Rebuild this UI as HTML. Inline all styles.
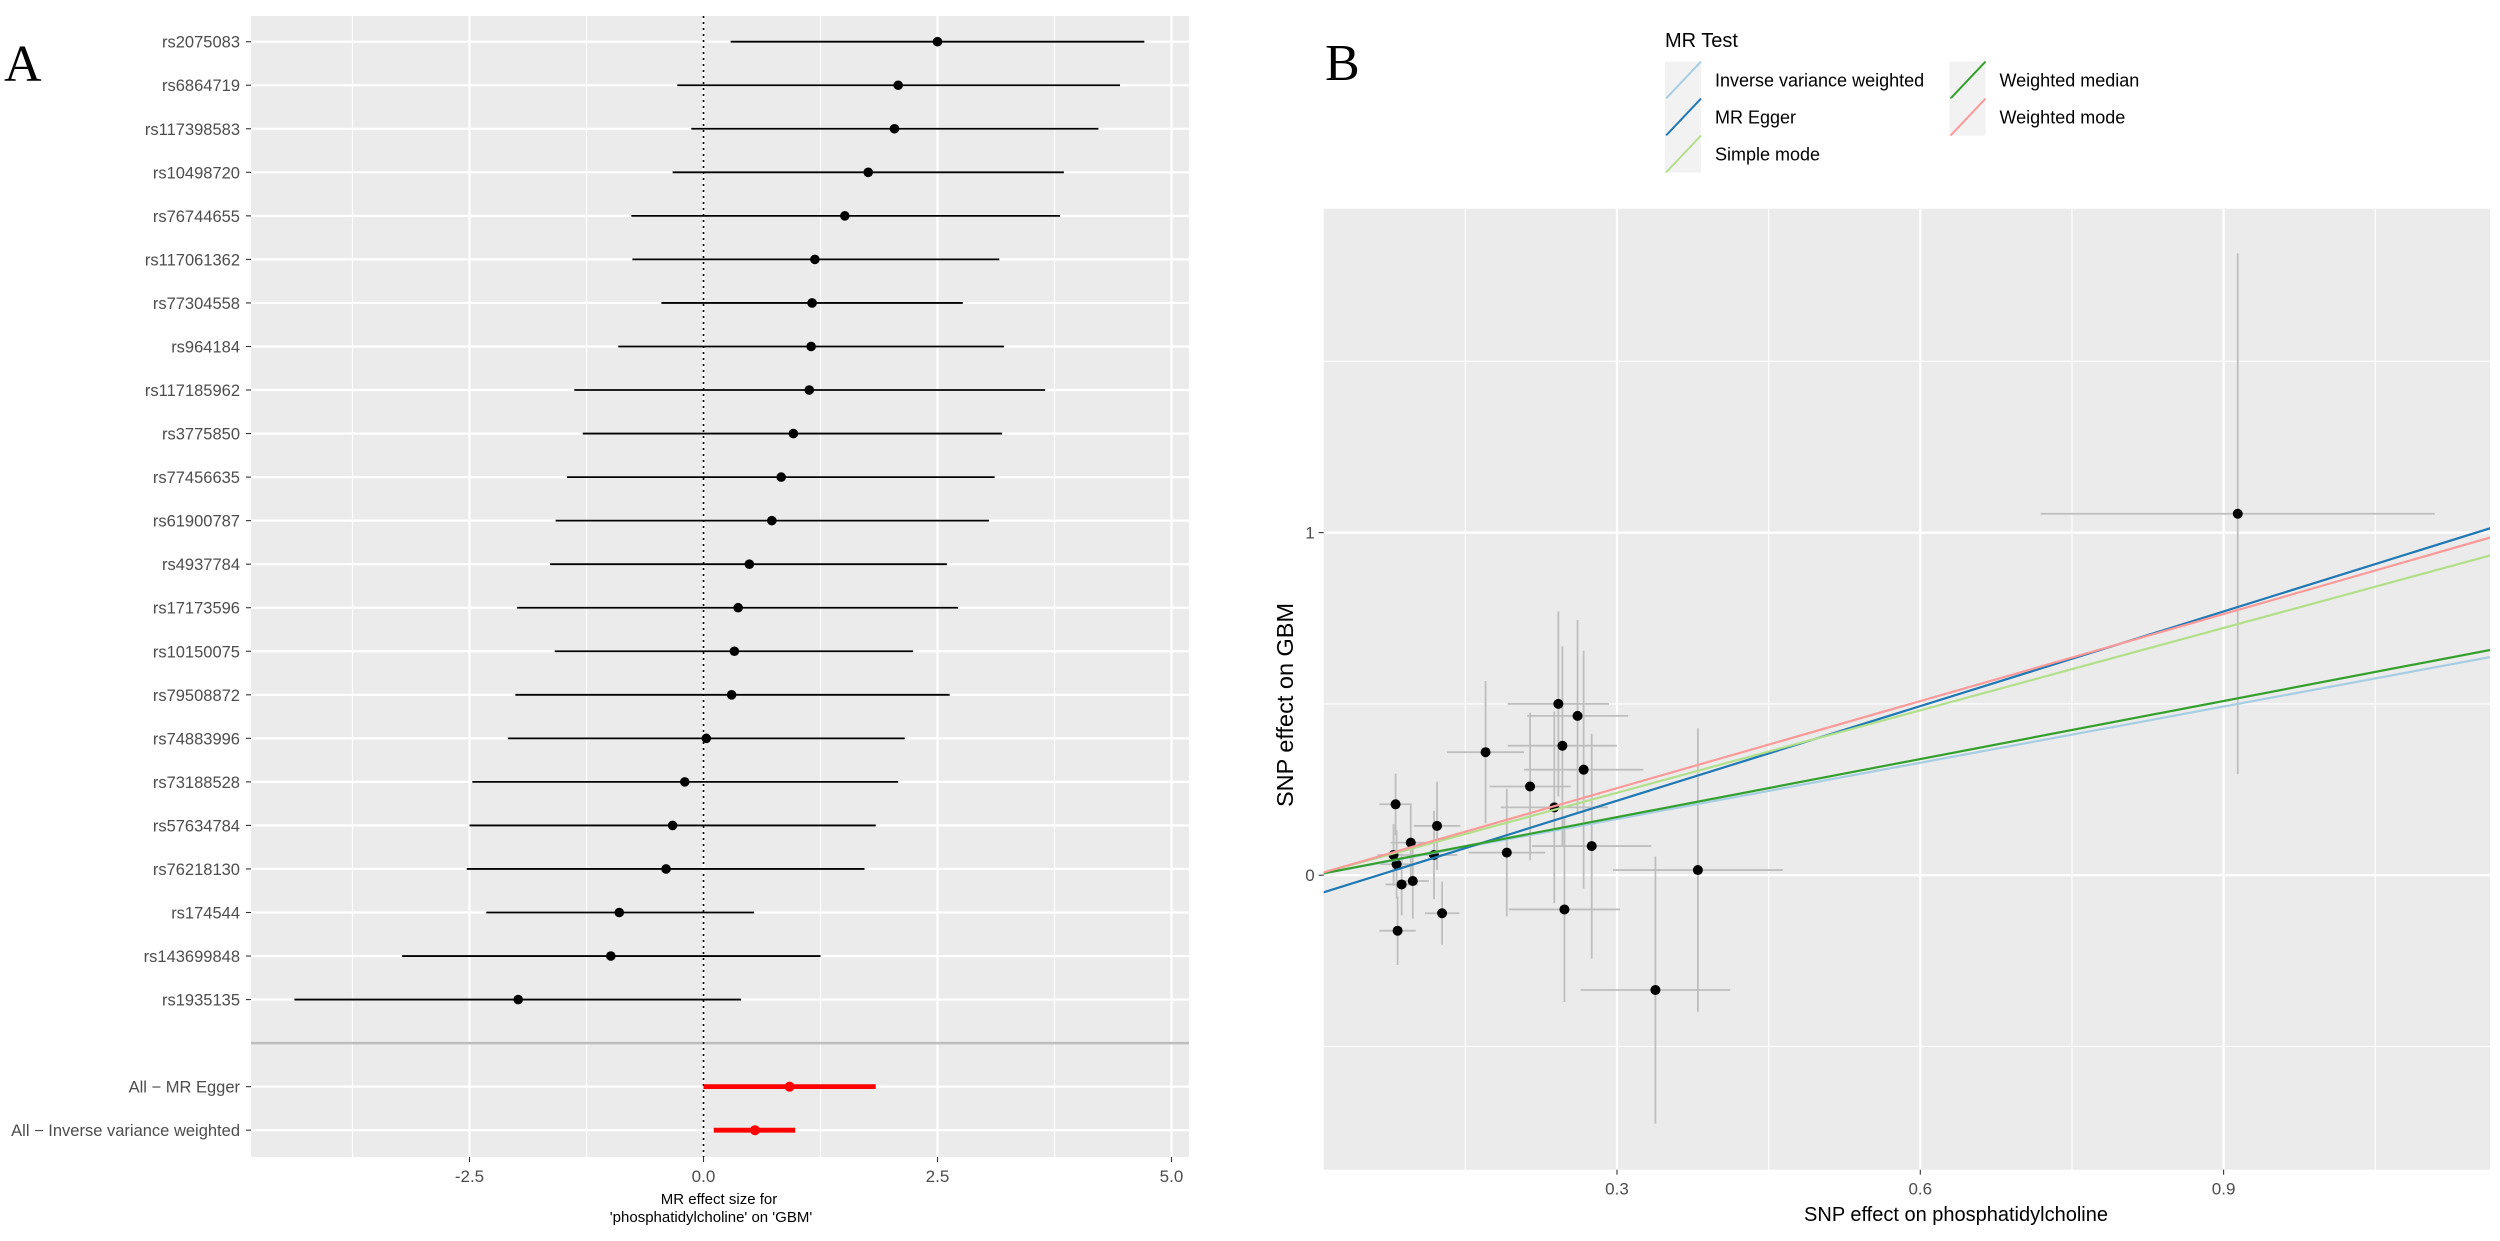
<!DOCTYPE html>
<html><head><meta charset="utf-8"><style>
html,body{margin:0;padding:0;background:#fff;}
svg{display:block;font-family:"Liberation Sans",sans-serif;}
</style></head><body>
<svg id="fig" width="2500" height="1241" viewBox="0 0 2500 1241" xmlns="http://www.w3.org/2000/svg">
<g id="panelA"></g>
<g id="panelB"></g>
</svg>
<script>
// ---------- Panel A data ----------
const snps = ["rs2075083","rs6864719","rs117398583","rs10498720","rs76744655","rs117061362","rs77304558","rs964184","rs117185962","rs3775850","rs77456635","rs61900787","rs4937784","rs17173596","rs10150075","rs79508872","rs74883996","rs73188528","rs57634784","rs76218130","rs174544","rs143699848","rs1935135"];
const snpEst = [2.50,2.08,2.04,1.76,1.51,1.19,1.16,1.15,1.13,0.96,0.83,0.73,0.49,0.37,0.33,0.30,0.03,-0.20,-0.33,-0.40,-0.90,-0.99,-1.98];
const snpLo = [0.29,-0.28,-0.13,-0.33,-0.77,-0.76,-0.45,-0.91,-1.38,-1.29,-1.46,-1.58,-1.64,-1.99,-1.59,-2.01,-2.09,-2.47,-2.50,-2.53,-2.32,-3.22,-4.37];
const snpHi = [4.71,4.45,4.22,3.85,3.81,3.16,2.77,3.21,3.65,3.19,3.11,3.05,2.60,2.72,2.24,2.63,2.15,2.08,1.84,1.72,0.54,1.25,0.40];
const sumLabels = ["All \u2212 MR Egger","All \u2212 Inverse variance weighted"];
const sumEst = [0.92,0.55];
const sumLo = [0.00,0.11];
const sumHi = [1.84,0.98];
const aMajorTicks = [-2.5,0,2.5,5];
const aTickLabels = ["-2.5","0.0","2.5","5.0"];
const aMinorTicks = [-3.75,-1.25,1.25,3.75];

// ---------- Panel B data ----------
const bx = [0.242,0.261,0.246,0.267,0.275,0.238,0.214,0.248,0.191,0.170,0.380,0.338,0.081,0.122,0.096,0.079,0.082,0.119,0.087,0.098,0.127,0.083,0.914];
const by = [0.500,0.465,0.378,0.308,0.085,0.198,0.259,-0.100,0.066,0.359,0.015,-0.335,0.207,0.144,0.095,0.059,0.032,0.059,-0.027,-0.017,-0.111,-0.162,1.055];
const bxSe = [0.050,0.050,0.054,0.059,0.059,0.053,0.040,0.055,0.038,0.038,0.084,0.074,0.016,0.023,0.020,0.016,0.016,0.023,0.016,0.016,0.017,0.018,0.195];
const bySe = [0.270,0.280,0.290,0.347,0.328,0.280,0.215,0.270,0.186,0.208,0.414,0.390,0.090,0.129,0.109,0.090,0.100,0.129,0.090,0.110,0.092,0.100,0.760];
const methods = ["Inverse variance weighted","MR Egger","Simple mode","Weighted median","Weighted mode"];
const methodSlopes = [0.547,0.921,0.802,0.565,0.847];
const methodIntercepts = [0,-0.059,0,0,0];
const methodColors = ["#a6cee3","#1f78b4","#b2df8a","#33a02c","#fb9a99"];
const bXTicks = [0.3,0.6,0.9];
const bXTickLabels = ["0.3","0.6","0.9"];
const bXMinor = [0.15,0.45,0.75,1.05];
const bYTicks = [0,1];
const bYTickLabels = ["0","1"];
const bYMinor = [-0.5,0.5,1.5];

const NS = "http://www.w3.org/2000/svg";
function mk(parent, tag, attrs, text){
  const e = document.createElementNS(NS, tag);
  for (const k in attrs) e.setAttribute(k, attrs[k]);
  if (text !== undefined) e.textContent = text;
  parent.appendChild(e);
  return e;
}

// ================= PANEL A =================
(function(){
  const g = document.getElementById('panelA');
  const L = 251, R = 1189, T = 16, B = 1157;
  const xA = v => 703.5 + v * 93.6;
  const yRow = k => 41.7 + k * 43.54;

  const lab = mk(g,'text',{x:4,y:81,'font-family':'Liberation Serif, serif','font-size':52,fill:'#000'},'A');
  
  

  const bg = mk(g,'rect',{x:L,y:T,width:R-L,height:B-T,fill:'#ebebeb'});
  
  

  aMinorTicks.forEach(v=>{
    const l = mk(g,'line',{x1:xA(v),x2:xA(v),y1:T,y2:B,stroke:'#fff','stroke-width':1.1});
    
    
  });
  aMajorTicks.forEach(v=>{
    const l = mk(g,'line',{x1:xA(v),x2:xA(v),y1:T,y2:B,stroke:'#fff','stroke-width':2.2});
    
    
  });
  const nRows = snps.length + 1 + sumLabels.length;
  for (let k=0;k<nRows;k++){
    const l = mk(g,'line',{x1:L,x2:R,y1:yRow(k),y2:yRow(k),stroke:'#fff','stroke-width':2.2});
    
    
  }
  const sep = mk(g,'line',{x1:L,x2:R,y1:yRow(snps.length),y2:yRow(snps.length),stroke:'#bdbdbd','stroke-width':2.6});
  
  

  const zl = mk(g,'line',{x1:xA(0),x2:xA(0),y1:T,y2:B,stroke:'#000','stroke-width':1.6,'stroke-dasharray':'2,4'});
  
  

  snps.forEach((s,k)=>{
    const y = yRow(k);
    const ci = mk(g,'line',{x1:xA(snpLo[k]),x2:xA(snpHi[k]),y1:y,y2:y,stroke:'#000','stroke-width':1.8});
    
    
    const pt = mk(g,'circle',{cx:xA(snpEst[k]),cy:y,r:4.8,fill:'#000'});
    
    
    const tl = mk(g,'text',{x:240,y:y+6,'text-anchor':'end','font-size':16.5,fill:'#4d4d4d'},s);
    
    
    const tk = mk(g,'line',{x1:L-5,x2:L,y1:y,y2:y,stroke:'#333','stroke-width':1.1});
    
    
  });
  sumLabels.forEach((s,i)=>{
    const y = yRow(snps.length+1+i);
    const ci = mk(g,'line',{x1:xA(sumLo[i]),x2:xA(sumHi[i]),y1:y,y2:y,stroke:'#ff0000','stroke-width':4.8});
    
    
    const pt = mk(g,'circle',{cx:xA(sumEst[i]),cy:y,r:5,fill:'#ff0000'});
    
    
    const tl = mk(g,'text',{x:240,y:y+6,'text-anchor':'end','font-size':16.5,fill:'#4d4d4d'},s);
    
    
    const tk = mk(g,'line',{x1:L-5,x2:L,y1:y,y2:y,stroke:'#333','stroke-width':1.1});
    
    
  });
  aMajorTicks.forEach((v,i)=>{
    const tk = mk(g,'line',{x1:xA(v),x2:xA(v),y1:B,y2:B+5,stroke:'#333','stroke-width':1.1});
    
    
    const t = mk(g,'text',{x:xA(v),y:B+25,'text-anchor':'middle','font-size':17,fill:'#4d4d4d'},aTickLabels[i]);
    
    
  });
  const xt1 = mk(g,'text',{x:719,y:1204,'text-anchor':'middle','font-size':15,fill:'#000'},'MR effect size for');
  
  
  const xt2 = mk(g,'text',{x:711,y:1222,'text-anchor':'middle','font-size':15,fill:'#000'},"'phosphatidylcholine' on 'GBM'");
  
  
})();

// ================= PANEL B =================
(function(){
  const g = document.getElementById('panelB');
  const L = 1323.7, R = 2490, T = 208.7, B = 1169.7;
  const X = v => 1313.7 + v * 1011;
  const Y = v => 875.2 - v * 342.6;

  const lab = mk(g,'text',{x:1325,y:80,'font-family':'Liberation Serif, serif','font-size':52,fill:'#000'},'B');
  
  

  const lt = mk(g,'text',{x:1665,y:47,'font-size':20,fill:'#000'},'MR Test');
  
  
  const legPos = [[1665,61.6],[1665,98.6],[1665,135.5],[1949.5,61.6],[1949.5,98.6]];
  const legOrder = [0,1,2,3,4];
  legOrder.forEach((m,i)=>{
    const [lx,ly] = legPos[i];
    const eg = mk(g,'g',{});
    
    
    mk(eg,'rect',{x:lx,y:ly,width:36,height:37,fill:'#f2f2f2'});
    mk(eg,'line',{x1:lx+1,y1:ly+37,x2:lx+36,y2:ly,stroke:methodColors[m],'stroke-width':2});
    mk(eg,'text',{x:lx+50,y:ly+25,'font-size':18,fill:'#000'},methods[m]);
  });

  const bg = mk(g,'rect',{x:L,y:T,width:R-L,height:B-T,fill:'#ebebeb'});
  
  

  bXMinor.forEach(v=>{
    const l = mk(g,'line',{x1:X(v),x2:X(v),y1:T,y2:B,stroke:'#fff','stroke-width':1.1});
    
    
  });
  bYMinor.forEach(v=>{
    const l = mk(g,'line',{x1:L,x2:R,y1:Y(v),y2:Y(v),stroke:'#fff','stroke-width':1.1});
    
    
  });
  bXTicks.forEach(v=>{
    const l = mk(g,'line',{x1:X(v),x2:X(v),y1:T,y2:B,stroke:'#fff','stroke-width':2.2});
    
    
  });
  bYTicks.forEach(v=>{
    const l = mk(g,'line',{x1:L,x2:R,y1:Y(v),y2:Y(v),stroke:'#fff','stroke-width':2.2});
    
    
  });

  const defs = mk(g,'defs',{});
  const cp = mk(defs,'clipPath',{id:'clipB'});
  mk(cp,'rect',{x:L,y:T,width:R-L,height:B-T});
  const pg = mk(g,'g',{'clip-path':'url(#clipB)'});
  
  

  bx.forEach((v,i)=>{
    const h = mk(pg,'line',{x1:X(v-bxSe[i]),x2:X(v+bxSe[i]),y1:Y(by[i]),y2:Y(by[i]),stroke:'#bebebe','stroke-width':1.8});
    
    
    const vl = mk(pg,'line',{x1:X(v),x2:X(v),y1:Y(by[i]+bySe[i]),y2:Y(by[i]-bySe[i]),stroke:'#bebebe','stroke-width':1.8});
    
    
  });
  bx.forEach((v,i)=>{
    const c = mk(pg,'circle',{cx:X(v),cy:Y(by[i]),r:5,fill:'#000'});
    
    
  });
  const x0 = 0, x1 = 1.2;
  methods.forEach((m,i)=>{
    const l = mk(pg,'line',{x1:X(x0),y1:Y(methodIntercepts[i]+methodSlopes[i]*x0),x2:X(x1),y2:Y(methodIntercepts[i]+methodSlopes[i]*x1),stroke:methodColors[i],'stroke-width':2.2});
    
    
  });

  bXTicks.forEach((v,i)=>{
    const tk = mk(g,'line',{x1:X(v),x2:X(v),y1:B,y2:B+5,stroke:'#333','stroke-width':1.1});
    
    
    const t = mk(g,'text',{x:X(v),y:B+25,'text-anchor':'middle','font-size':17,fill:'#4d4d4d'},bXTickLabels[i]);
    
    
  });
  bYTicks.forEach((v,i)=>{
    const tk = mk(g,'line',{x1:L-5,x2:L,y1:Y(v),y2:Y(v),stroke:'#333','stroke-width':1.1});
    
    
    const t = mk(g,'text',{x:L-9,y:Y(v)+6,'text-anchor':'end','font-size':17,fill:'#4d4d4d'},bYTickLabels[i]);
    
    
  });
  const xt = mk(g,'text',{x:1956,y:1221,'text-anchor':'middle','font-size':20,fill:'#000'},'SNP effect on phosphatidylcholine');
  
  
  const yt = mk(g,'text',{x:0,y:0,'text-anchor':'middle','font-size':23,fill:'#000',transform:'translate(1293,705) rotate(-90)',textLength:204,lengthAdjust:'spacingAndGlyphs'},'SNP effect on GBM');
  
  
})();
</script>
</body></html>
